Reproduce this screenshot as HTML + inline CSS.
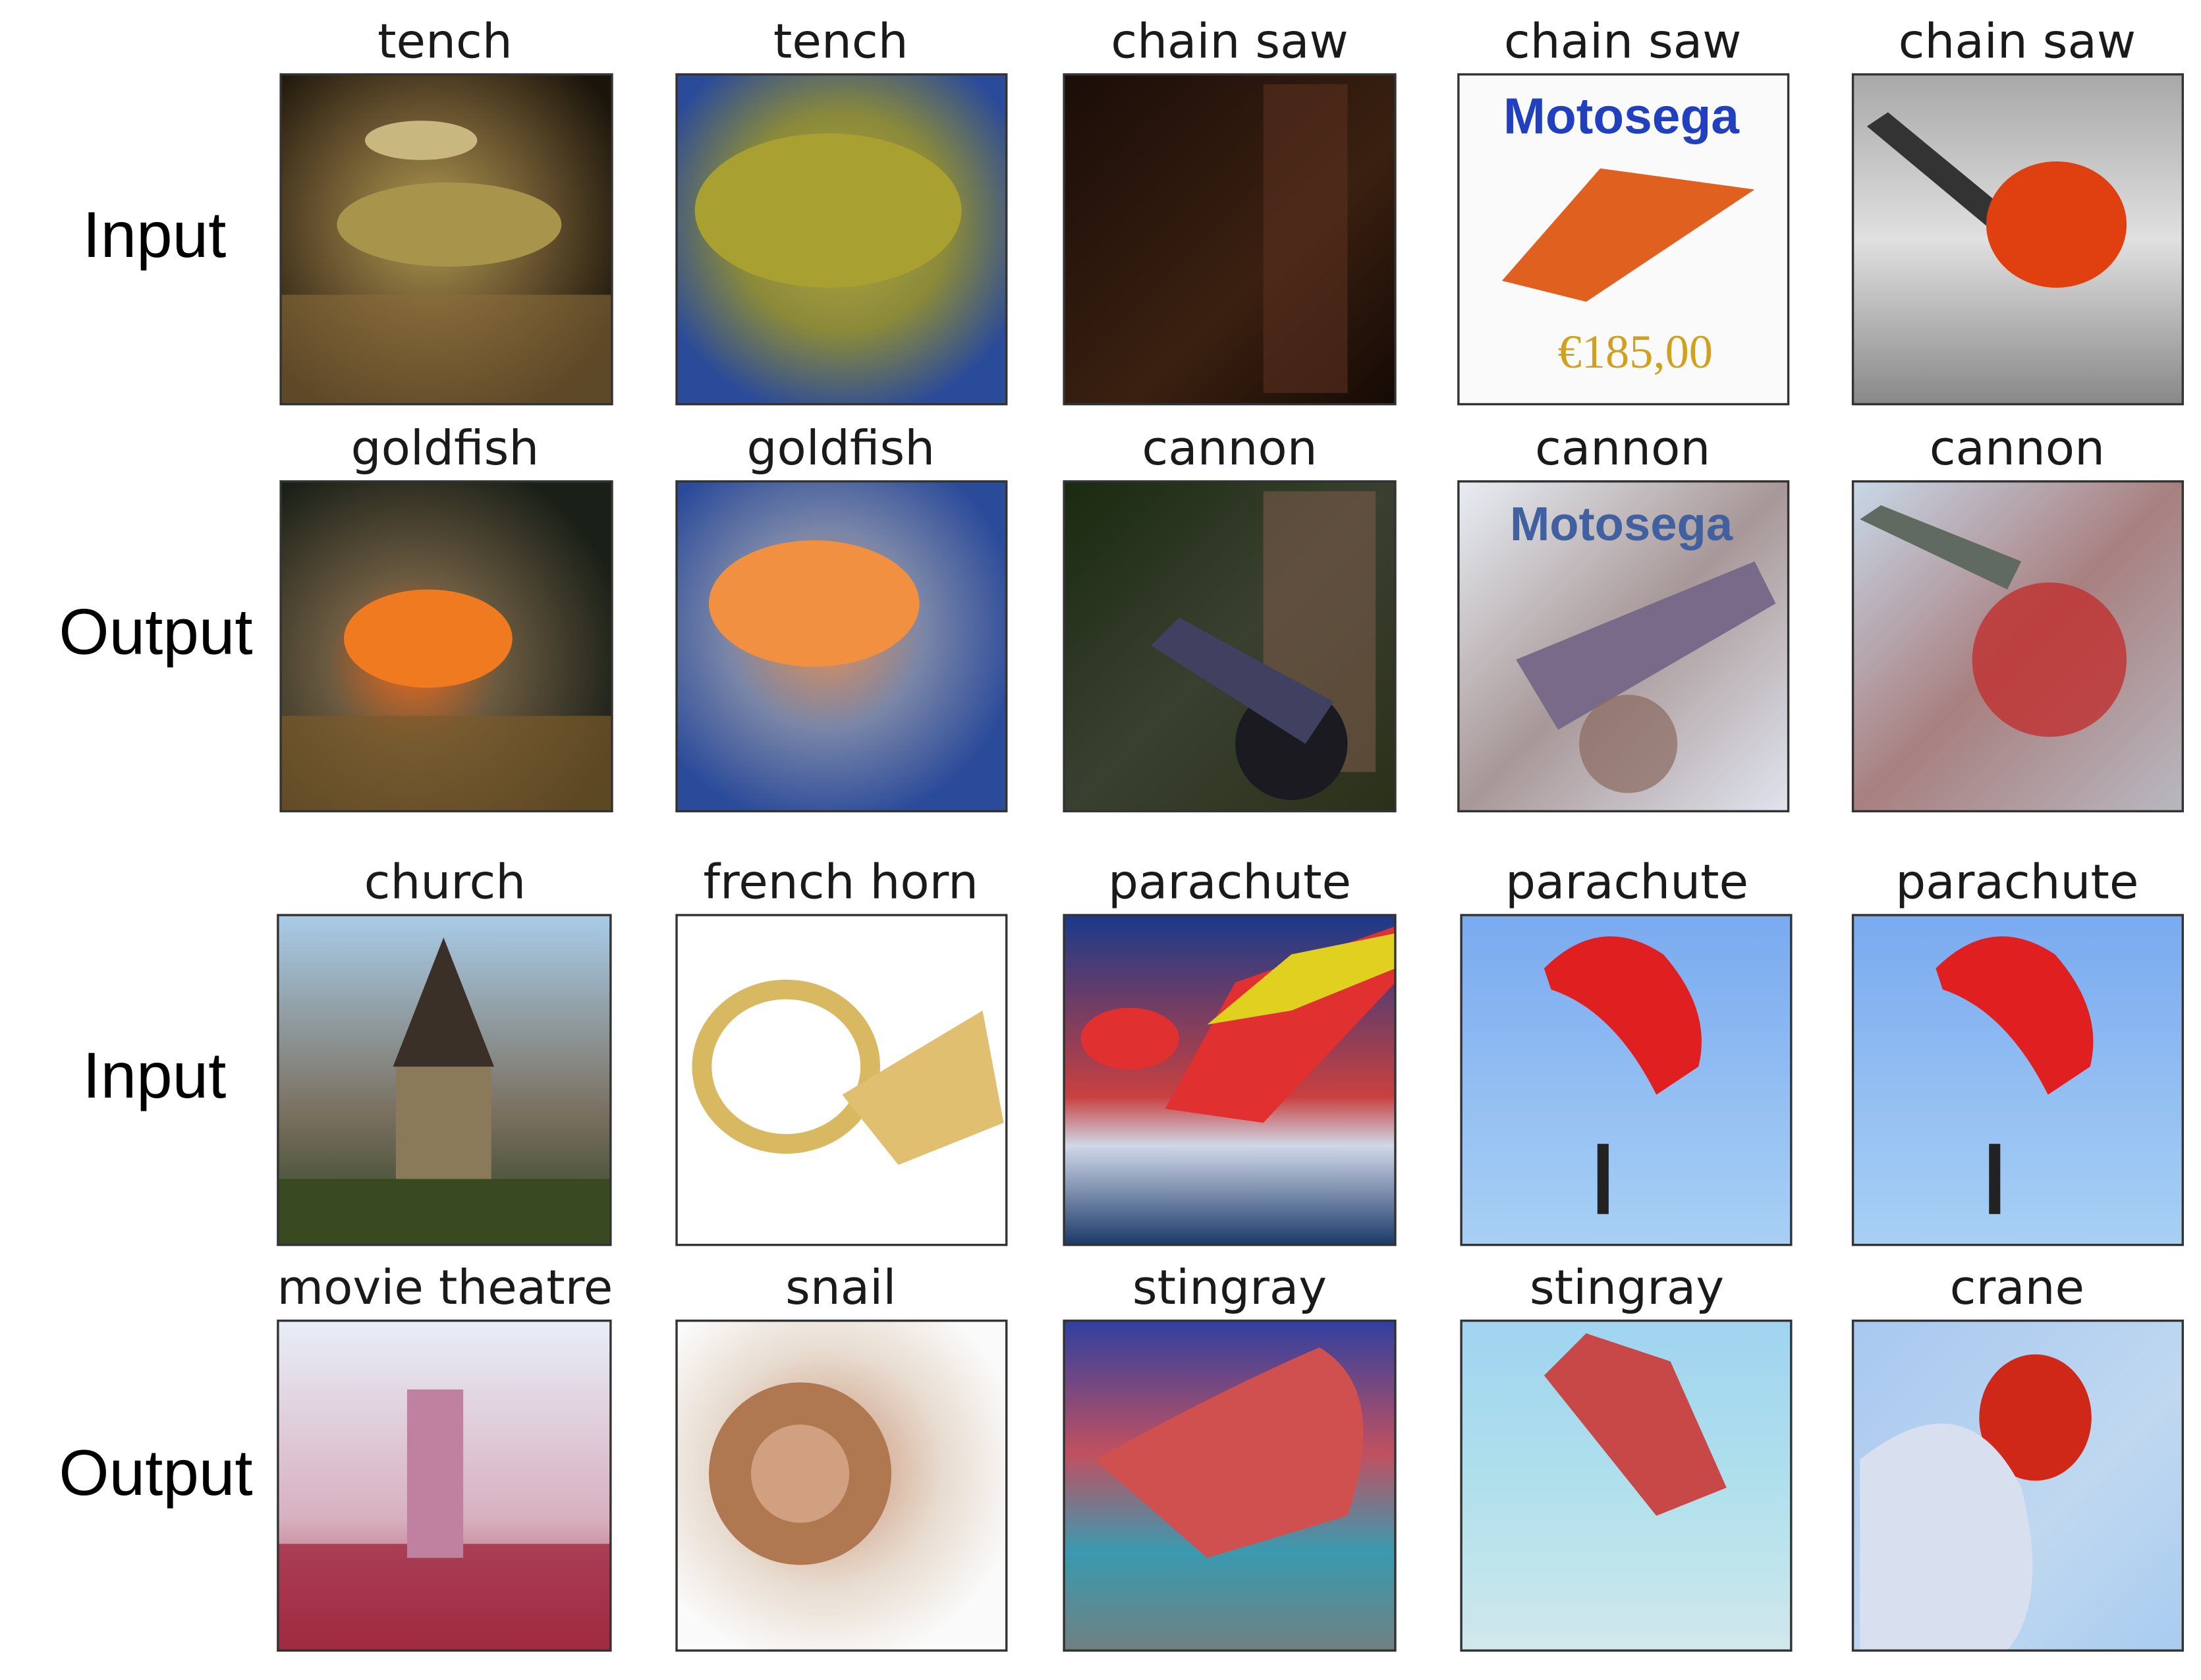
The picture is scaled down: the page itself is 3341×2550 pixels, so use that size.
<!DOCTYPE html>
<html><head><meta charset="utf-8"><style>
html,body{margin:0;padding:0;background:#fff;}
svg{display:block;}
.t{font-family:"DejaVu Sans","Liberation Sans",sans-serif;font-size:34px;fill:#1a1a1a;text-anchor:middle;}
.r{font-family:"Liberation Sans",sans-serif;font-size:46px;fill:#000;text-anchor:middle;}
.f{stroke:#333;stroke-width:1.6;fill:none;}
</style></head><body>
<svg width="3341" height="2550" viewBox="0 0 1568 1197" preserveAspectRatio="none">
<defs>
<radialGradient id="g1" cx="45%" cy="45%" r="65%"><stop offset="0" stop-color="#b09a50"/><stop offset="0.5" stop-color="#6a5530"/><stop offset="1" stop-color="#1a140a"/></radialGradient>
<radialGradient id="g2" cx="50%" cy="45%" r="60%"><stop offset="0" stop-color="#b8a840"/><stop offset="0.55" stop-color="#8a8a3a"/><stop offset="1" stop-color="#2a4a9a"/></radialGradient>
<linearGradient id="g3" x1="0" y1="0" x2="1" y2="1"><stop offset="0" stop-color="#1a0d08"/><stop offset="0.6" stop-color="#3a2010"/><stop offset="1" stop-color="#150a05"/></linearGradient>
<linearGradient id="g5" x1="0" y1="0" x2="0" y2="1"><stop offset="0" stop-color="#a8a8a8"/><stop offset="0.5" stop-color="#e0e0e0"/><stop offset="1" stop-color="#888"/></linearGradient>
<radialGradient id="g6" cx="40%" cy="55%" r="65%"><stop offset="0" stop-color="#e86a20"/><stop offset="0.4" stop-color="#6a5a40"/><stop offset="1" stop-color="#1a2018"/></radialGradient>
<radialGradient id="g7" cx="45%" cy="45%" r="60%"><stop offset="0" stop-color="#e89050"/><stop offset="0.5" stop-color="#7a86a8"/><stop offset="1" stop-color="#2a4a9a"/></radialGradient>
<linearGradient id="g8" x1="0" y1="0" x2="1" y2="1"><stop offset="0" stop-color="#1a2a10"/><stop offset="0.5" stop-color="#3a4030"/><stop offset="1" stop-color="#2a3018"/></linearGradient>
<linearGradient id="g9" x1="0" y1="0" x2="1" y2="1"><stop offset="0" stop-color="#e8eef4"/><stop offset="0.5" stop-color="#a89898"/><stop offset="1" stop-color="#e0e4ee"/></linearGradient>
<linearGradient id="g10" x1="0" y1="0" x2="1" y2="1"><stop offset="0" stop-color="#c8d8e8"/><stop offset="0.5" stop-color="#a88080"/><stop offset="1" stop-color="#b8b8c0"/></linearGradient>
<linearGradient id="g11" x1="0" y1="0" x2="0" y2="1"><stop offset="0" stop-color="#a8cce8"/><stop offset="0.6" stop-color="#7a7060"/><stop offset="1" stop-color="#2a4020"/></linearGradient>
<linearGradient id="g13" x1="0" y1="0" x2="0" y2="1"><stop offset="0" stop-color="#1a3a8a"/><stop offset="0.55" stop-color="#c84040"/><stop offset="0.7" stop-color="#d0d8e8"/><stop offset="1" stop-color="#1a3a6a"/></linearGradient>
<linearGradient id="sky" x1="0" y1="0" x2="0" y2="1"><stop offset="0" stop-color="#7aaaf0"/><stop offset="1" stop-color="#a8d0f4"/></linearGradient>
<linearGradient id="g16" x1="0" y1="0" x2="0" y2="1"><stop offset="0" stop-color="#e8eef8"/><stop offset="0.6" stop-color="#d8b0c0"/><stop offset="1" stop-color="#a03040"/></linearGradient>
<radialGradient id="g17" cx="45%" cy="45%" r="60%"><stop offset="0" stop-color="#c89070"/><stop offset="0.6" stop-color="#e8dcd0"/><stop offset="1" stop-color="#fafafa"/></radialGradient>
<linearGradient id="g18" x1="0" y1="0" x2="0" y2="1"><stop offset="0" stop-color="#3040a0"/><stop offset="0.4" stop-color="#c05060"/><stop offset="0.7" stop-color="#3a9ab0"/><stop offset="1" stop-color="#708080"/></linearGradient>
<linearGradient id="g19" x1="0" y1="0" x2="0" y2="1"><stop offset="0" stop-color="#a0d4f0"/><stop offset="0.5" stop-color="#b0e0ec"/><stop offset="1" stop-color="#d0e8ec"/></linearGradient>
<linearGradient id="g20" x1="0" y1="0" x2="1" y2="1"><stop offset="0" stop-color="#a8c8f0"/><stop offset="0.6" stop-color="#c0d8f0"/><stop offset="1" stop-color="#a8ccf0"/></linearGradient>
</defs>

<text class="r" x="110" y="183">Input</text>
<text class="r" x="111" y="466">Output</text>
<text class="r" x="110" y="782">Input</text>
<text class="r" x="111" y="1065">Output</text>

<!-- Row 1 -->
<g>
<text class="t" x="317" y="41">tench</text>
<rect x="200" y="53" width="236" height="235" fill="url(#g1)"/>
<ellipse cx="320" cy="160" rx="80" ry="30" fill="#a8944a"/><ellipse cx="300" cy="100" rx="40" ry="14" fill="#c8b880"/>
<rect x="200" y="210" width="236" height="78" fill="#8a6a3a" opacity="0.6"/>
<rect class="f" x="200" y="53" width="236" height="235"/></g>
<g>
<text class="t" x="599" y="41">tench</text>
<rect x="482" y="53" width="235" height="235" fill="url(#g2)"/>
<ellipse cx="590" cy="150" rx="95" ry="55" fill="#a8a030"/>
<rect class="f" x="482" y="53" width="235" height="235"/></g>
<g>
<text class="t" x="876" y="41">chain saw</text>
<rect x="758" y="53" width="236" height="235" fill="url(#g3)"/>
<rect x="900" y="60" width="60" height="220" fill="#5a3020" opacity="0.6"/>
<rect class="f" x="758" y="53" width="236" height="235"/></g>
<g>
<text class="t" x="1156" y="41">chain saw</text>
<rect x="1039" y="53" width="235" height="235" fill="#fafafa"/>
<text x="1155" y="95" font-family="Liberation Sans,sans-serif" font-weight="bold" font-size="36" fill="#2040c0" text-anchor="middle">Motosega</text>
<polygon points="1070,200 1140,120 1250,135 1130,215" fill="#e06020"/>
<text x="1165" y="262" font-family="Liberation Serif,serif" font-size="34" fill="#d0a020" text-anchor="middle">€185,00</text>
<rect class="f" x="1039" y="53" width="235" height="235"/></g>
<g>
<text class="t" x="1437" y="41">chain saw</text>
<rect x="1320" y="53" width="235" height="235" fill="url(#g5)"/>
<polygon points="1330,90 1345,80 1430,150 1420,165" fill="#333"/>
<ellipse cx="1465" cy="160" rx="50" ry="45" fill="#e04010"/>
<rect class="f" x="1320" y="53" width="235" height="235"/></g>

<!-- Row 2 -->
<g>
<text class="t" x="317" y="331">goldfish</text>
<rect x="200" y="343" width="236" height="235" fill="url(#g6)"/>
<ellipse cx="305" cy="455" rx="60" ry="35" fill="#f07a20"/>
<rect x="200" y="510" width="236" height="68" fill="#7a5a2a" opacity="0.7"/>
<rect class="f" x="200" y="343" width="236" height="235"/></g>
<g>
<text class="t" x="599" y="331">goldfish</text>
<rect x="482" y="343" width="235" height="235" fill="url(#g7)"/>
<ellipse cx="580" cy="430" rx="75" ry="45" fill="#f09040"/>
<rect class="f" x="482" y="343" width="235" height="235"/></g>
<g>
<text class="t" x="876" y="331">cannon</text>
<rect x="758" y="343" width="236" height="235" fill="url(#g8)"/>
<rect x="900" y="350" width="80" height="200" fill="#7a5a4a" opacity="0.6"/>
<circle cx="920" cy="530" r="40" fill="#1a1a20"/><polygon points="820,460 840,440 950,500 930,530" fill="#404060"/>
<rect class="f" x="758" y="343" width="236" height="235"/></g>
<g>
<text class="t" x="1156" y="331">cannon</text>
<rect x="1039" y="343" width="235" height="235" fill="url(#g9)"/>
<text x="1155" y="385" font-family="Liberation Sans,sans-serif" font-weight="bold" font-size="34" fill="#4060a0" text-anchor="middle">Motosega</text>
<polygon points="1080,470 1250,400 1265,430 1110,520" fill="#7a6a8a"/>
<circle cx="1160" cy="530" r="35" fill="#8a6a60" opacity="0.7"/>
<rect class="f" x="1039" y="343" width="235" height="235"/></g>
<g>
<text class="t" x="1437" y="331">cannon</text>
<rect x="1320" y="343" width="235" height="235" fill="url(#g10)"/>
<polygon points="1325,370 1340,360 1440,400 1430,420" fill="#606a60"/>
<circle cx="1460" cy="470" r="55" fill="#c03030" opacity="0.8"/>
<rect class="f" x="1320" y="343" width="235" height="235"/></g>

<!-- Row 3 -->
<g>
<text class="t" x="317" y="640">church</text>
<rect x="198" y="652" width="237" height="235" fill="url(#g11)"/>
<polygon points="280,760 316,668 352,760" fill="#3a3028"/><rect x="282" y="760" width="68" height="100" fill="#8a7a5a"/>
<rect x="198" y="840" width="237" height="47" fill="#3a4a20"/>
<rect class="f" x="198" y="652" width="237" height="235"/></g>
<g>
<text class="t" x="599" y="640">french horn</text>
<rect x="482" y="652" width="235" height="235" fill="#fff"/>
<ellipse cx="560" cy="760" rx="60" ry="55" fill="none" stroke="#d8b860" stroke-width="14"/>
<polygon points="600,780 700,720 715,800 640,830" fill="#e0c070"/>
<rect class="f" x="482" y="652" width="235" height="235"/></g>
<g>
<text class="t" x="876" y="640">parachute</text>
<rect x="758" y="652" width="236" height="235" fill="url(#g13)"/>
<polygon points="830,790 880,700 994,660 994,700 900,800" fill="#e03030"/>
<polygon points="860,730 920,680 994,665 994,690 920,720" fill="#e0d020"/>
<ellipse cx="805" cy="740" rx="35" ry="22" fill="#e03030"/>
<rect class="f" x="758" y="652" width="236" height="235"/></g>
<g>
<text class="t" x="1159" y="640">parachute</text>
<rect x="1041" y="652" width="235" height="235" fill="url(#sky)"/>
<path d="M1100,690 Q1140,650 1185,680 Q1220,720 1210,760 L1180,780 Q1150,720 1105,705 Z" fill="#e02020"/>
<rect x="1138" y="815" width="8" height="50" fill="#222"/>
<rect class="f" x="1041" y="652" width="235" height="235"/></g>
<g>
<text class="t" x="1437" y="640">parachute</text>
<rect x="1320" y="652" width="235" height="235" fill="url(#sky)"/>
<path d="M1379,690 Q1419,650 1464,680 Q1499,720 1489,760 L1459,780 Q1429,720 1384,705 Z" fill="#e02020"/>
<rect x="1417" y="815" width="8" height="50" fill="#222"/>
<rect class="f" x="1320" y="652" width="235" height="235"/></g>

<!-- Row 4 -->
<g>
<text class="t" x="317" y="929">movie theatre</text>
<rect x="198" y="941" width="237" height="235" fill="url(#g16)"/>
<rect x="198" y="1100" width="237" height="76" fill="#a02840" opacity="0.8"/>
<rect x="290" y="990" width="40" height="120" fill="#c080a0"/>
<rect class="f" x="198" y="941" width="237" height="235"/></g>
<g>
<text class="t" x="599" y="929">snail</text>
<rect x="482" y="941" width="235" height="235" fill="url(#g17)"/>
<circle cx="570" cy="1050" r="65" fill="#b07850"/><circle cx="570" cy="1050" r="35" fill="#d0a080"/>
<rect class="f" x="482" y="941" width="235" height="235"/></g>
<g>
<text class="t" x="876" y="929">stingray</text>
<rect x="758" y="941" width="236" height="235" fill="url(#g18)"/>
<path d="M780,1040 Q870,990 940,960 Q990,990 960,1080 L860,1110 Z" fill="#d05050"/>
<rect class="f" x="758" y="941" width="236" height="235"/></g>
<g>
<text class="t" x="1159" y="929">stingray</text>
<rect x="1041" y="941" width="235" height="235" fill="url(#g19)"/>
<polygon points="1100,980 1130,950 1190,970 1230,1060 1180,1080" fill="#c84848"/>
<rect class="f" x="1041" y="941" width="235" height="235"/></g>
<g>
<text class="t" x="1437" y="929">crane</text>
<rect x="1320" y="941" width="235" height="235" fill="url(#g20)"/>
<ellipse cx="1450" cy="1010" rx="40" ry="45" fill="#d02818"/>
<path d="M1325,1040 Q1400,980 1440,1060 Q1460,1140 1430,1176 L1325,1176 Z" fill="#d8e0f0"/>
<rect class="f" x="1320" y="941" width="235" height="235"/></g>
</svg>
</body></html>
